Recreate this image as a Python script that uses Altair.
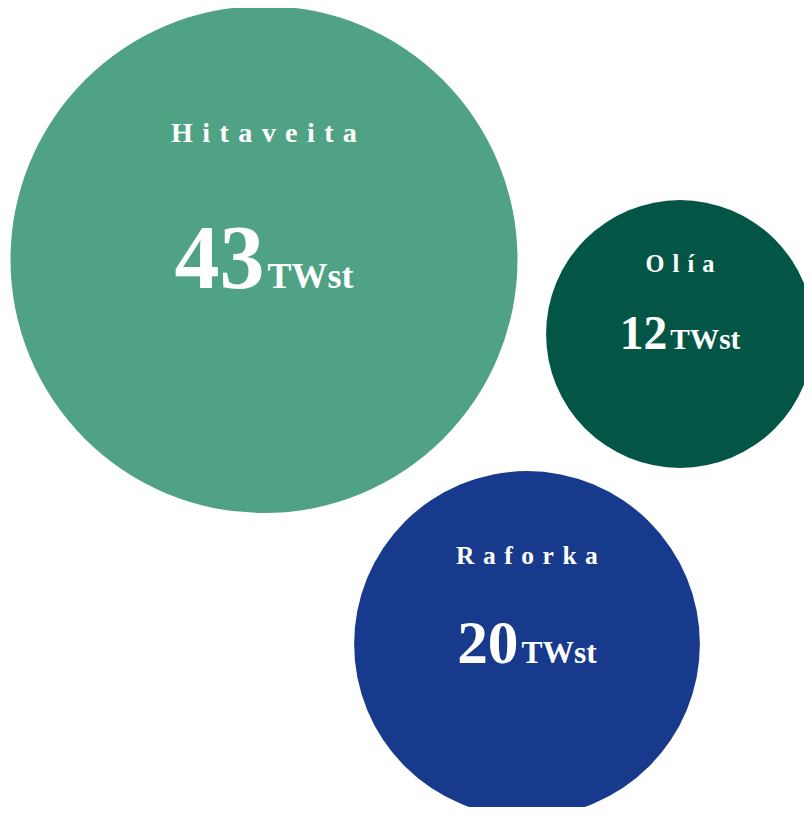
import math
import altair as alt
import pandas as pd

# ---- data ----
categories = ["Hitaveita", "Olía", "Raforka"]
values = [43, 12, 20]
unit = "TWst"

# ---- style / layout (page pixel coordinates of the bubble centres) ----
colors = ["#4FA384", "#035645", "#183A8C"]
center_x = [264, 680, 527]
center_y = [259.5, 334, 644]
R_MAX = 253.5  # radius of the largest bubble, px
FONT = "Liberation Serif"

W, H = 796, 799
vmax = max(values)

rows = []
for name, v, cx, cy in zip(categories, values, center_x, center_y):
    r = R_MAX * math.sqrt(v / vmax)
    label_fs = 20 + 0.032 * r
    num_fs = 0.355 * r
    unit_fs = 22 + 0.055 * r
    num_txt = str(v)
    num_w = len(num_txt) * 0.5 * num_fs
    unit_w = 2.389 * unit_fs
    gap = 3
    left = cx - (num_w + gap + unit_w) / 2
    rows.append(dict(
        name=name, value=v, cx=cx, cy=cy,
        label="\u2004".join(list(name)),
        label_y=cy - 0.465 * r, label_fs=label_fs,
        num_txt=num_txt, num_x=left + num_w, num_y=cy + 0.112 * r, num_fs=num_fs,
        unit_txt=unit, unit_x=left + num_w + gap, unit_fs=unit_fs,
    ))
df = pd.DataFrame(rows)

xs = alt.Scale(domain=[8, 8 + W], range=[0, W])
ys = alt.Scale(domain=[8, 8 + H], range=[0, H])

base = alt.Chart(df)

# Vega draws a circle of radius sqrt(size)/2, so size = (2r)^2 (area-proportional)
bubbles = base.mark_circle(opacity=1, strokeWidth=0).encode(
    x=alt.X("cx:Q", scale=xs, axis=None),
    y=alt.Y("cy:Q", scale=ys, axis=None),
    size=alt.Size("value:Q",
                  scale=alt.Scale(type="linear", domain=[0, vmax],
                                  range=[0, (2 * R_MAX) ** 2]),
                  legend=None),
    color=alt.Color("name:N", scale=alt.Scale(domain=categories, range=colors),
                    legend=None),
)

labels = base.mark_text(align="center", baseline="alphabetic", font=FONT,
                        fontWeight="bold", color="white").encode(
    x=alt.X("cx:Q", scale=xs, axis=None),
    y=alt.Y("label_y:Q", scale=ys, axis=None),
    text="label:N",
    size=alt.Size("label_fs:Q", scale=None, legend=None),
)

numbers = base.mark_text(align="right", baseline="alphabetic", font=FONT,
                         fontWeight="bold", color="white").encode(
    x=alt.X("num_x:Q", scale=xs, axis=None),
    y=alt.Y("num_y:Q", scale=ys, axis=None),
    text="num_txt:N",
    size=alt.Size("num_fs:Q", scale=None, legend=None),
)

units = base.mark_text(align="left", baseline="alphabetic", font=FONT,
                       fontWeight="bold", color="white").encode(
    x=alt.X("unit_x:Q", scale=xs, axis=None),
    y=alt.Y("num_y:Q", scale=ys, axis=None),
    text="unit_txt:N",
    size=alt.Size("unit_fs:Q", scale=None, legend=None),
)

chart = alt.layer(bubbles, labels, numbers, units).resolve_scale(
    size="independent"
).properties(
    width=W, height=H, padding=0,
    autosize=alt.AutoSizeParams(type="none"),
    background="white",
).configure_view(stroke=None)

chart.save("out.html", embed_options={"renderer": "svg", "actions": False})
